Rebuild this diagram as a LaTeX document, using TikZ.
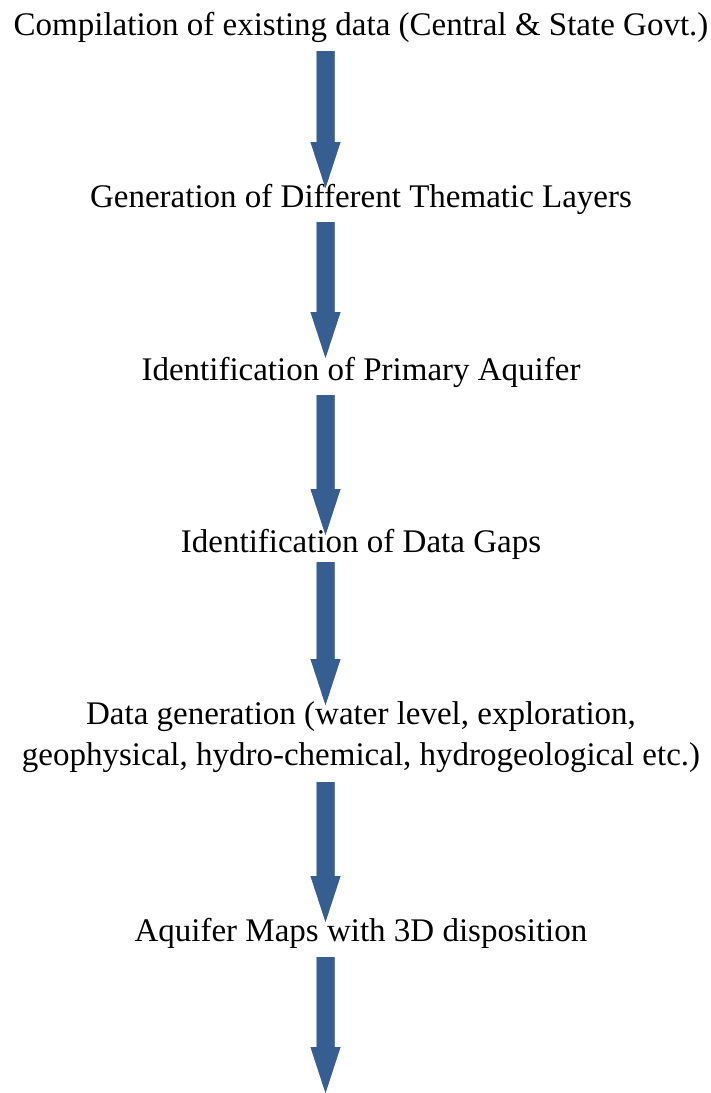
\documentclass[tikz,border=0pt]{standalone}
\usepackage{fontspec}
\setmainfont{Liberation Serif}
\usetikzlibrary{calc}
\definecolor{arrowblue}{RGB}{54,94,144}
\definecolor{arrowshadow}{RGB}{140,158,185}
\tikzset{
  steptext/.style={anchor=base, inner sep=0pt, font=\fontsize{33}{41}\selectfont, align=center},
  arrowbody/.style={fill=arrowblue},
  arrowshade/.style={fill=arrowshadow, shift={(3,3)}},
}
\newcommand\blockarrow[3][arrowbody]{%
  \fill[#1] ($(#2)+(-9,0)$) -- ($(#2)+(9,0)$) -- ($(#3)+(9,-46)$) -- ($(#3)+(15,-46)$)
    -- (#3) -- ($(#3)+(-15,-46)$) -- ($(#3)+(-9,-46)$) -- cycle;}
\begin{document}
\begin{tikzpicture}[x=1pt,y=-1pt]
\useasboundingbox (0,0) rectangle (710,1093);
\node[steptext] (t1) at (361,35) {Compilation of existing data (Central \& State Govt.)};
\node[steptext] (t2) at (361,207) {Generation of Different Thematic Layers};
\node[steptext] (t3) at (361,380) {Identification of Primary Aquifer};
\node[steptext] (t4) at (361,552) {Identification of Data Gaps};
\node[steptext] (t5a) at (361,724) {Data generation (water level, exploration,};
\node[steptext] (t5b) at (361,765) {geophysical, hydro-chemical, hydrogeological etc.)};
\node[steptext] (t6) at (361,941) {Aquifer Maps with 3D disposition};
\coordinate (a1s) at (325.5,51);  \coordinate (a1e) at (325.5,188);
\coordinate (a2s) at (325.5,222); \coordinate (a2e) at (325.5,358);
\coordinate (a3s) at (325.5,395); \coordinate (a3e) at (325.5,535);
\coordinate (a4s) at (325.5,562); \coordinate (a4e) at (325.5,705);
\coordinate (a5s) at (325.5,782); \coordinate (a5e) at (325.5,922);
\coordinate (a6s) at (325.5,957); \coordinate (a6e) at (325.5,1093);
\foreach \i in {1,...,6}{
  \blockarrow[arrowshade]{a\i s}{a\i e}
  \blockarrow{a\i s}{a\i e}
}
\end{tikzpicture}
\end{document}
